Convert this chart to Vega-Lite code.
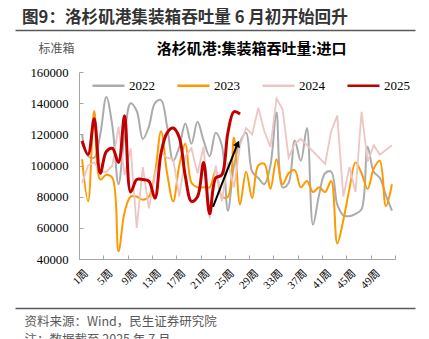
{
  "$schema": "https://vega.github.io/schema/vega-lite/v6.json",
  "width": 316,
  "height": 187,
  "autosize": {"type": "none"},
  "padding": {"left": 79, "top": 72, "right": 34, "bottom": 80},
  "background": "#ffffff",
  "title": {"text": "图9：洛杉矶港集装箱吞吐量 6 月初开始回升", "anchor": "start", "frame": "group", "dx": -57, "offset": 3, "font": "Noto Sans CJK SC", "fontSize": 16.6, "fontWeight": "bold", "color": "#333333"},
  "config": {"view": {"stroke": null}},
  "datasets": {
    "weeks": [
      {"week": 1, "2022": 119600, "2023": 104000, "2024": 88600, "2025": 115700},
      {"week": 2, "2022": 106000, "2023": 77000, "2024": 100000, "2025": 107000},
      {"week": 3, "2022": 105000, "2023": 135000, "2024": 102000, "2025": 130000},
      {"week": 4, "2022": 120000, "2023": 91000, "2024": 96000, "2025": 95000},
      {"week": 5, "2022": 144000, "2023": 94000, "2024": 96000, "2025": 109000},
      {"week": 6, "2022": 125000, "2023": 92000, "2024": 100000, "2025": 111000},
      {"week": 7, "2022": 88000, "2023": 45000, "2024": 125000, "2025": 102000},
      {"week": 8, "2022": 120000, "2023": 70000, "2024": 94000, "2025": 132000},
      {"week": 9, "2022": 140000, "2023": 80000, "2024": 111000, "2025": 83000},
      {"week": 10, "2022": 135000, "2023": 80000, "2024": 60000, "2025": 91000},
      {"week": 11, "2022": 117000, "2023": 78000, "2024": 99000, "2025": 91000},
      {"week": 12, "2022": 125000, "2023": 80000, "2024": 72500, "2025": 90000},
      {"week": 13, "2022": 140000, "2023": 95000, "2024": 94000, "2025": 79000},
      {"week": 14, "2022": 142000, "2023": 122000, "2024": 108000, "2025": 108000},
      {"week": 15, "2022": 125000, "2023": 95000, "2024": 105000, "2025": 121000},
      {"week": 16, "2022": 103000, "2023": 77000, "2024": 104000, "2025": 124000},
      {"week": 17, "2022": 112000, "2023": 100000, "2024": 80000, "2025": 118000},
      {"week": 18, "2022": 127000, "2023": 114000, "2024": 106000, "2025": 93000},
      {"week": 19, "2022": 114000, "2023": 89000, "2024": 111000, "2025": 77000},
      {"week": 20, "2022": 128000, "2023": 86000, "2024": 95000, "2025": 80000},
      {"week": 21, "2022": 116000, "2023": 86000, "2024": 112000, "2025": 102000},
      {"week": 22, "2022": 106000, "2023": 86000, "2024": 66000, "2025": 69000},
      {"week": 23, "2022": 121000, "2023": 97000, "2024": 100000, "2025": 92000},
      {"week": 24, "2022": 113000, "2023": 80000, "2024": 77000, "2025": 94000},
      {"week": 25, "2022": 71000, "2023": 80000, "2024": 102000, "2025": 121000},
      {"week": 26, "2022": 100000, "2023": 118000, "2024": 86000, "2025": 134500},
      {"week": 27, "2022": 115000, "2023": 75000, "2024": 113000, "2025": 133000},
      {"week": 28, "2022": 121000, "2023": 96000, "2024": 124000},
      {"week": 29, "2022": 96000, "2023": 79000, "2024": 120000},
      {"week": 30, "2022": 92000, "2023": 100000, "2024": 137000},
      {"week": 31, "2022": 88000, "2023": 101000, "2024": 122000},
      {"week": 32, "2022": 100000, "2023": 85000, "2024": 112000},
      {"week": 33, "2022": 134000, "2023": 104000, "2024": 143000},
      {"week": 34, "2022": 86000, "2023": 88000, "2024": 136000},
      {"week": 35, "2022": 89000, "2023": 95000, "2024": 105000},
      {"week": 36, "2022": 116000, "2023": 97000, "2024": 114000},
      {"week": 37, "2022": 103000, "2023": 86000, "2024": 117000},
      {"week": 38, "2022": 124000, "2023": 90000, "2024": 113000},
      {"week": 39, "2022": 62000, "2023": 83000, "2024": 109000},
      {"week": 40, "2022": 81000, "2023": 86000, "2024": 105000},
      {"week": 41, "2022": 95000, "2023": 83000, "2024": 101000},
      {"week": 42, "2022": 96000, "2023": 90000, "2024": 122000},
      {"week": 43, "2022": 75000, "2023": 50000, "2024": 132000},
      {"week": 44, "2022": 68000, "2023": 65000, "2024": 80000},
      {"week": 45, "2022": 67500, "2023": 85000, "2024": 99000},
      {"week": 46, "2022": 69000, "2023": 102000, "2024": 83000},
      {"week": 47, "2022": 72000, "2023": 95000, "2024": 134500},
      {"week": 48, "2022": 112000, "2023": 85000, "2024": 102500},
      {"week": 49, "2022": 96000, "2023": 98000, "2024": 113000},
      {"week": 50, "2022": 92000, "2023": 103000, "2024": 107000},
      {"week": 51, "2022": 81000, "2023": 74000, "2024": 110000},
      {"week": 52, "2022": 71000, "2023": 88000, "2024": 113000}
    ],
    "arrow": [
      {"week": 22.55, "value": 73400, "week2": 26.6, "value2": 114000}
    ]
  },
  "resolve": {"scale": {"x": "independent"}, "axis": {"x": "independent"}},
  "layer": [
    {
      "encoding": {
        "x": {
          "field": "week", "type": "quantitative",
          "scale": {"domain": [0.5, 52.5], "nice": false, "zero": false},
          "axis": {
            "orient": "bottom",
            "values": [0.5, 4.5, 8.5, 12.5, 16.5, 20.5, 24.5, 28.5, 32.5, 36.5, 40.5, 44.5, 48.5, 52.5],
            "labelExpr": "datum.value > 50 ? '' : (datum.value + 0.5) + '周'",
            "labelAngle": -45, "labelOffset": 3, "labelPadding": 12,
            "labelFont": "Liberation Serif, Noto Sans CJK SC", "labelFontSize": 11, "labelColor": "#000000",
            "labelOverlap": false, "labelFlush": false, "labelBound": false,
            "tickSize": -4, "tickColor": "#A6A6A6", "domainColor": "#A6A6A6", "grid": false, "title": null
          }
        },
        "y": {
          "field": "value", "type": "quantitative",
          "scale": {"domain": [40000, 160000], "nice": false, "zero": false},
          "axis": {
            "values": [40000, 60000, 80000, 100000, 120000, 140000, 160000],
            "format": "d", "tickSize": -4, "tickColor": "#A6A6A6", "domainColor": "#A6A6A6",
            "labelFont": "Liberation Serif", "labelFontSize": 12.7, "labelColor": "#000000", "labelPadding": 15,
            "grid": false,
            "title": "标准箱", "titleAngle": 0, "titleX": -23, "titleY": -24, "titleAlign": "center", "titleBaseline": "middle",
            "titleFont": "Noto Sans CJK SC", "titleFontSize": 12, "titleFontWeight": "normal", "titleColor": "#555555"
          }
        }
      },
      "layer": [
        {
          "data": {"name": "weeks"},
          "transform": [
            {"fold": ["2022", "2023", "2024", "2025"], "as": ["year", "value"]},
            {"filter": "isValid(datum.value) && (datum.year == '2022' || datum.year == '2023')"}
          ],
          "mark": {"type": "line", "interpolate": "catmull-rom", "strokeWidth": 2},
          "encoding": {
            "color": {
              "field": "year", "type": "nominal",
              "scale": {"domain": ["2022", "2023", "2024", "2025"], "range": ["#ABABAB", "#FF9900", "#EDC5C5", "#C00000"]},
              "legend": {
                "orient": "none", "legendX": 12, "legendY": -4, "direction": "horizontal", "title": null,
                "symbolType": "stroke", "symbolSize": 1024, "symbolStrokeWidth": 2.5,
                "labelFont": "Liberation Serif", "labelFontSize": 13, "labelColor": "#000000",
                "columnPadding": 17, "labelOffset": 3
              }
            }
          }
        },
        {
          "data": {"name": "weeks"},
          "transform": [
            {"fold": ["2022", "2023", "2024", "2025"], "as": ["year", "value"]},
            {"filter": "isValid(datum.value) && datum.year == '2024'"}
          ],
          "mark": {"type": "line", "interpolate": "linear", "strokeWidth": 1.8},
          "encoding": {"color": {"field": "year", "type": "nominal"}}
        },
        {
          "data": {"name": "weeks"},
          "transform": [
            {"fold": ["2022", "2023", "2024", "2025"], "as": ["year", "value"]},
            {"filter": "isValid(datum.value) && datum.year == '2025'"}
          ],
          "mark": {"type": "line", "interpolate": "catmull-rom", "strokeWidth": 3},
          "encoding": {"color": {"field": "year", "type": "nominal"}}
        },
        {
          "data": {"name": "arrow"},
          "mark": {"type": "rule", "color": "#000000", "strokeWidth": 2},
          "encoding": {"x2": {"field": "week2"}, "y2": {"field": "value2"}}
        },
        {
          "data": {"name": "arrow"},
          "mark": {"type": "point", "shape": "triangle-up", "filled": true, "color": "#000000", "opacity": 1, "size": 55, "angle": 21},
          "encoding": {
            "x": {"field": "week2", "type": "quantitative"},
            "y": {"field": "value2", "type": "quantitative"}
          }
        }
      ]
    },
    {
      "data": {"values": [{}]},
      "mark": {"type": "rule", "opacity": 0},
      "encoding": {
        "x": {
          "datum": 0, "type": "quantitative",
          "scale": {"domain": [0, 1], "range": [-64, 336], "nice": false, "zero": false},
          "axis": {
            "orient": "top", "offset": 42, "domain": true, "domainColor": "#595959", "domainWidth": 1.6,
            "ticks": false, "labels": false, "grid": false,
            "title": "洛杉矶港:集装箱吞吐量:进口", "titleX": 172, "titleY": 18, "titleAlign": "center", "titleBaseline": "middle",
            "titleFont": "Noto Sans CJK SC", "titleFontSize": 15, "titleFontWeight": "bold", "titleColor": "#000000"
          }
        }
      }
    },
    {
      "data": {"values": [{}]},
      "mark": {"type": "rule", "opacity": 0},
      "encoding": {
        "x": {
          "datum": 0, "type": "quantitative",
          "scale": {"domain": [0, 1], "range": [-64, 336], "nice": false, "zero": false},
          "axis": {
            "orient": "bottom", "offset": 49, "domain": true, "domainColor": "#595959", "domainWidth": 1.6,
            "ticks": false, "labels": false, "grid": false,
            "title": ["资料来源：Wind，民生证券研究院", "注：数据截至 2025 年 7 月"], "titleX": -55, "titleY": 13, "titleAlign": "left", "titleBaseline": "middle",
            "titleLineHeight": 18,
            "titleFont": "Noto Sans CJK SC", "titleFontSize": 12.5, "titleFontWeight": "normal", "titleColor": "#595959"
          }
        }
      }
    }
  ]
}
